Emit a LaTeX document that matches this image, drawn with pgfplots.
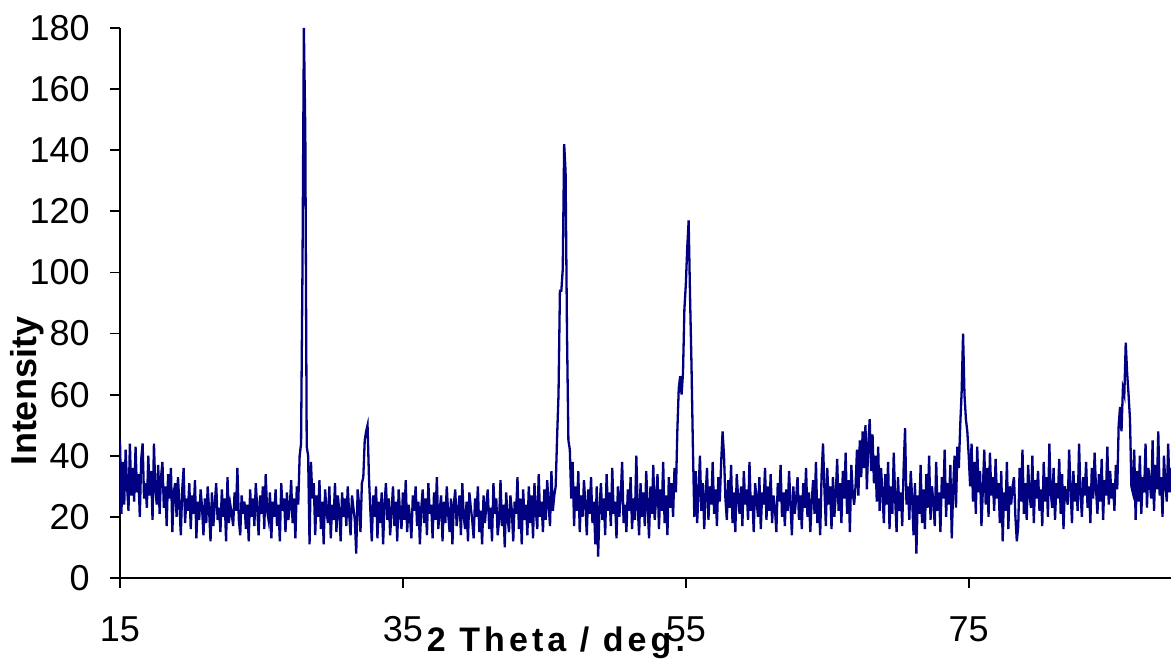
\documentclass[border=0pt]{standalone}
\usepackage{pgfplots}
\pgfplotsset{compat=1.18}
\usepackage{fontspec}
\setmainfont{Liberation Sans}
\usetikzlibrary{calc}
\definecolor{navyline}{RGB}{0,0,128}

\begin{document}
\begin{tikzpicture}
\begin{axis}[
    name=ax,
    scale only axis,
    width=525.5pt, height=275pt,
    xmin=15, xmax=89.3,
    ymin=0, ymax=180,
    axis x line*=bottom,
    axis y line*=left,
    axis line style={line width=0.9pt, black},
    xtick={15,35,55,75},
    ytick={0,20,...,180},
    tick align=outside,
    major tick length=5pt,
    tick style={line width=0.9pt, black},
    /pgf/number format/assume math mode=true,
    ticklabel style={font=\fontsize{18}{20}\selectfont, inner sep=0pt},
    xticklabel style={anchor=north, yshift=-14pt},
    yticklabel style={anchor=east, xshift=-10pt},
    every axis x label/.style={at={(rel axis cs:0.4148,0)}, yshift=-37pt, anchor=base,
        font=\fontsize{17}{19}\selectfont\bfseries\addfontfeature{LetterSpace=12}},
    every axis y label/.style={at={(rel axis cs:0,0.34)}, xshift=-41.5pt, rotate=90, anchor=base,
        font=\fontsize{18}{20}\selectfont\bfseries},
    xlabel={2 Theta / deg.},
    ylabel={Intensity},
]
\addplot[navyline, line width=1.15pt, mark=none] coordinates {
(15.0,45)(15.1,21)(15.2,38)(15.3,24)(15.4,42)(15.5,30)(15.6,22)(15.7,44)(15.8,27)(15.9,36)
(16.0,25)(16.1,43)(16.2,28)(16.3,34)(16.4,20)(16.5,39)(16.6,44)(16.7,26)(16.8,31)(16.9,23)
(17.0,40)(17.1,27)(17.2,35)(17.3,19)(17.4,44)(17.5,29)(17.6,24)(17.7,37)(17.8,21)(17.9,33)
(18.0,38)(18.1,23)(18.2,30)(18.3,17)(18.4,34)(18.5,26)(18.6,36)(18.7,15)(18.8,28)(18.9,31)
(19.0,20)(19.1,33)(19.2,24)(19.3,14)(19.4,29)(19.5,36)(19.6,18)(19.7,26)(19.8,22)(19.9,31)
(20.0,16)(20.1,27)(20.2,21)(20.3,32)(20.4,13)(20.5,25)(20.6,19)(20.7,29)(20.8,23)(20.9,14)
(21.0,26)(21.1,18)(21.2,30)(21.3,22)(21.4,12)(21.5,28)(21.6,17)(21.7,24)(21.8,31)(21.9,19)
(22.0,23)(22.1,15)(22.2,29)(22.3,20)(22.4,26)(22.5,12)(22.6,33)(22.7,18)(22.8,24)(22.9,21)
(23.0,17)(23.1,28)(23.2,22)(23.3,36)(23.4,19)(23.5,14)(23.6,27)(23.7,21)(23.8,25)(23.9,16)
(24.0,24)(24.1,12)(24.2,29)(24.3,20)(24.4,26)(24.5,17)(24.6,31)(24.7,23)(24.8,14)(24.9,27)
(25.0,21)(25.1,30)(25.2,16)(25.3,34)(25.4,22)(25.5,19)(25.6,28)(25.7,13)(25.8,25)(25.9,20)
(26.0,29)(26.1,17)(26.2,24)(26.3,12)(26.4,31)(26.5,22)(26.6,26)(26.7,15)(26.8,28)(26.9,19)
(27.0,23)(27.1,32)(27.2,18)(27.3,26)(27.4,13)(27.5,30)(27.6,24)(27.7,40)(27.8,44)(27.9,101)
(28.0,180)(28.1,146)(28.2,43)(28.3,40)(28.4,11)(28.5,38)(28.6,26)(28.7,31)(28.8,14)(28.9,27)
(29.0,20)(29.1,32)(29.2,16)(29.3,25)(29.4,11)(29.5,29)(29.6,22)(29.7,18)(29.8,30)(29.9,13)
(30.0,24)(30.1,19)(30.2,31)(30.3,15)(30.4,27)(30.5,22)(30.6,12)(30.7,28)(30.8,20)(30.9,26)
(31.0,17)(31.1,30)(31.2,21)(31.3,14)(31.4,27)(31.5,23)(31.6,19)(31.7,8)(31.8,29)(31.9,24)
(32.0,15)(32.1,31)(32.2,33)(32.3,45)(32.4,48)(32.5,50)(32.6,33)(32.7,22)(32.8,12)(32.9,27)
(33.0,20)(33.1,30)(33.2,13)(33.3,25)(33.4,18)(33.5,28)(33.6,11)(33.7,24)(33.8,31)(33.9,19)
(34.0,26)(34.1,14)(34.2,22)(34.3,30)(34.4,17)(34.5,25)(34.6,12)(34.7,29)(34.8,21)(34.9,16)
(35.0,28)(35.1,19)(35.2,32)(35.3,15)(35.4,24)(35.5,20)(35.6,13)(35.7,27)(35.8,22)(35.9,30)
(36.0,17)(36.1,25)(36.2,11)(36.3,23)(36.4,29)(36.5,18)(36.6,26)(36.7,14)(36.8,31)(36.9,21)
(37.0,24)(37.1,13)(37.2,28)(37.3,19)(37.4,33)(37.5,16)(37.6,22)(37.7,27)(37.8,12)(37.9,25)
(38.0,18)(38.1,30)(38.2,21)(38.3,15)(38.4,26)(38.5,11)(38.6,24)(38.7,29)(38.8,17)(38.9,22)
(39.0,27)(39.1,14)(39.2,31)(39.3,20)(39.4,16)(39.5,25)(39.6,12)(39.7,28)(39.8,23)(39.9,19)
(40.0,13)(40.1,26)(40.2,20)(40.3,30)(40.4,15)(40.5,22)(40.6,11)(40.7,27)(40.8,18)(40.9,24)
(41.0,29)(41.1,16)(41.2,23)(41.3,12)(41.4,31)(41.5,21)(41.6,26)(41.7,14)(41.8,19)(41.9,32)
(42.0,17)(42.1,24)(42.2,10)(42.3,28)(42.4,20)(42.5,15)(42.6,27)(42.7,22)(42.8,12)(42.9,25)
(43.0,21)(43.1,33)(43.2,16)(43.3,26)(43.4,11)(43.5,29)(43.6,19)(43.7,24)(43.8,14)(43.9,30)
(44.0,18)(44.1,27)(44.2,13)(44.3,31)(44.4,22)(44.5,16)(44.6,34)(44.7,20)(44.8,25)(44.9,15)
(45.0,29)(45.1,19)(45.2,32)(45.3,24)(45.4,17)(45.5,35)(45.6,22)(45.7,27)(45.8,30)(45.9,46)
(46.0,60)(46.1,94)(46.2,94)(46.3,101)(46.4,142)(46.5,133)(46.6,80)(46.7,45)(46.8,42)(46.9,26)
(47.0,38)(47.1,17)(47.2,30)(47.3,22)(47.4,35)(47.5,15)(47.6,27)(47.7,20)(47.8,32)(47.9,24)
(48.0,14)(48.1,29)(48.2,21)(48.3,33)(48.4,18)(48.5,25)(48.6,11)(48.7,30)(48.8,7)(48.9,23)
(49.0,31)(49.1,19)(49.2,26)(49.3,14)(49.4,34)(49.5,22)(49.6,28)(49.7,17)(49.8,36)(49.9,21)
(50.0,25)(50.1,13)(50.2,30)(50.3,20)(50.4,27)(50.5,38)(50.6,18)(50.7,24)(50.8,15)(50.9,29)
(51.0,22)(51.1,33)(51.2,16)(51.3,26)(51.4,19)(51.5,40)(51.6,23)(51.7,14)(51.8,31)(51.9,20)
(52.0,28)(52.1,17)(52.2,35)(52.3,24)(52.4,13)(52.5,30)(52.6,21)(52.7,37)(52.8,19)(52.9,26)
(53.0,34)(53.1,16)(53.2,29)(53.3,22)(53.4,38)(53.5,18)(53.6,27)(53.7,14)(53.8,33)(53.9,23)
(54.0,31)(54.1,20)(54.2,36)(54.3,28)(54.4,48)(54.5,62)(54.6,66)(54.7,60)(54.8,67)(54.9,88)
(55.0,96)(55.1,108)(55.2,117)(55.3,92)(55.4,70)(55.5,43)(55.6,20)(55.7,35)(55.8,18)(55.9,28)
(56.0,40)(56.1,22)(56.2,31)(56.3,16)(56.4,27)(56.5,36)(56.6,19)(56.7,30)(56.8,24)(56.9,38)
(57.0,21)(57.1,29)(57.2,17)(57.3,33)(57.4,25)(57.5,38)(57.6,48)(57.7,40)(57.8,26)(57.9,19)
(58.0,32)(58.1,23)(58.2,37)(58.3,18)(58.4,28)(58.5,15)(58.6,34)(58.7,26)(58.8,21)(58.9,30)
(59.0,17)(59.1,35)(59.2,24)(59.3,29)(59.4,19)(59.5,38)(59.6,22)(59.7,27)(59.8,15)(59.9,31)
(60.0,26)(60.1,20)(60.2,33)(60.3,16)(60.4,28)(60.5,24)(60.6,36)(60.7,19)(60.8,30)(60.9,22)
(61.0,34)(61.1,18)(61.2,27)(61.3,23)(61.4,15)(61.5,31)(61.6,25)(61.7,37)(61.8,20)(61.9,28)
(62.0,17)(62.1,29)(62.2,22)(62.3,35)(62.4,24)(62.5,14)(62.6,30)(62.7,21)(62.8,26)(62.9,33)
(63.0,19)(63.1,27)(63.2,16)(63.3,31)(63.4,23)(63.5,36)(63.6,20)(63.7,28)(63.8,15)(63.9,25)
(64.0,32)(64.1,21)(64.2,38)(64.3,18)(64.4,26)(64.5,14)(64.6,34)(64.7,44)(64.8,29)(64.9,17)
(65.0,36)(65.1,24)(65.2,30)(65.3,16)(65.4,33)(65.5,20)(65.6,27)(65.7,39)(65.8,22)(65.9,31)
(66.0,18)(66.1,35)(66.2,26)(66.3,41)(66.4,21)(66.5,32)(66.6,15)(66.7,37)(66.8,28)(66.9,24)
(67.0,30)(67.1,42)(67.2,27)(67.3,45)(67.4,33)(67.5,48)(67.6,36)(67.7,50)(67.8,29)(67.9,44)
(68.0,52)(68.1,35)(68.2,47)(68.3,31)(68.4,40)(68.5,25)(68.6,43)(68.7,22)(68.8,36)(68.9,28)
(69.0,18)(69.1,34)(69.2,24)(69.3,38)(69.4,16)(69.5,30)(69.6,21)(69.7,41)(69.8,26)(69.9,15)
(70.0,33)(70.1,22)(70.2,28)(70.3,17)(70.4,36)(70.5,49)(70.6,24)(70.7,30)(70.8,19)(70.9,35)
(71.0,26)(71.1,14)(71.2,31)(71.3,8)(71.4,27)(71.5,21)(71.6,37)(71.7,18)(71.8,29)(71.9,16)
(72.0,34)(72.1,23)(72.2,40)(72.3,19)(72.4,30)(72.5,25)(72.6,17)(72.7,38)(72.8,22)(72.9,28)
(73.0,15)(73.1,33)(73.2,26)(73.3,42)(73.4,20)(73.5,31)(73.6,24)(73.7,37)(73.8,13)(73.9,29)
(74.0,40)(74.1,23)(74.2,43)(74.3,36)(74.4,50)(74.5,61)(74.6,80)(74.7,60)(74.8,52)(74.9,48)
(75.0,40)(75.1,30)(75.2,44)(75.3,25)(75.4,38)(75.5,21)(75.6,43)(75.7,28)(75.8,35)(75.9,17)
(76.0,29)(76.1,42)(76.2,24)(76.3,36)(76.4,20)(76.5,41)(76.6,27)(76.7,33)(76.8,22)(76.9,39)
(77.0,26)(77.1,31)(77.2,18)(77.3,35)(77.4,12)(77.5,28)(77.6,22)(77.7,38)(77.8,16)(77.9,30)
(78.0,24)(78.1,30)(78.2,33)(78.3,20)(78.4,12)(78.5,17)(78.6,36)(78.7,25)(78.8,42)(78.9,21)
(79.0,31)(79.1,19)(79.2,37)(79.3,27)(79.4,23)(79.5,40)(79.6,18)(79.7,32)(79.8,26)(79.9,35)
(80.0,22)(80.1,29)(80.2,17)(80.3,38)(80.4,25)(80.5,33)(80.6,20)(80.7,44)(80.8,28)(80.9,23)
(81.0,36)(81.1,19)(81.2,31)(81.3,26)(81.4,39)(81.5,21)(81.6,34)(81.7,16)(81.8,30)(81.9,27)
(82.0,24)(82.1,42)(82.2,29)(82.3,18)(82.4,35)(82.5,25)(82.6,31)(82.7,22)(82.8,44)(82.9,28)
(83.0,20)(83.1,33)(83.2,27)(83.3,38)(83.4,23)(83.5,30)(83.6,18)(83.7,36)(83.8,26)(83.9,41)
(84.0,29)(84.1,21)(84.2,34)(84.3,25)(84.4,39)(84.5,19)(84.6,32)(84.7,27)(84.8,43)(84.9,24)
(85.0,35)(85.1,26)(85.2,31)(85.3,22)(85.4,37)(85.5,29)(85.6,50)(85.7,56)(85.8,48)(85.9,62)
(86.0,60)(86.1,77)(86.2,67)(86.3,60)(86.4,52)(86.5,30)(86.6,28)(86.7,42)(86.8,19)(86.9,35)
(87.0,25)(87.1,40)(87.2,21)(87.3,33)(87.4,28)(87.5,44)(87.6,23)(87.7,36)(87.8,31)(87.9,26)
(88.0,45)(88.1,22)(88.2,37)(88.3,29)(88.4,48)(88.5,27)(88.6,33)(88.7,20)(88.8,40)(88.9,31)
(89.0,25)(89.1,44)(89.2,28)(89.3,36)
};
\end{axis}
\pgfresetboundingbox
\path ($(ax.south west)+(-60pt,-42pt)$) rectangle ($(ax.north east)+(0pt,14pt)$);
\end{tikzpicture}
\end{document}
